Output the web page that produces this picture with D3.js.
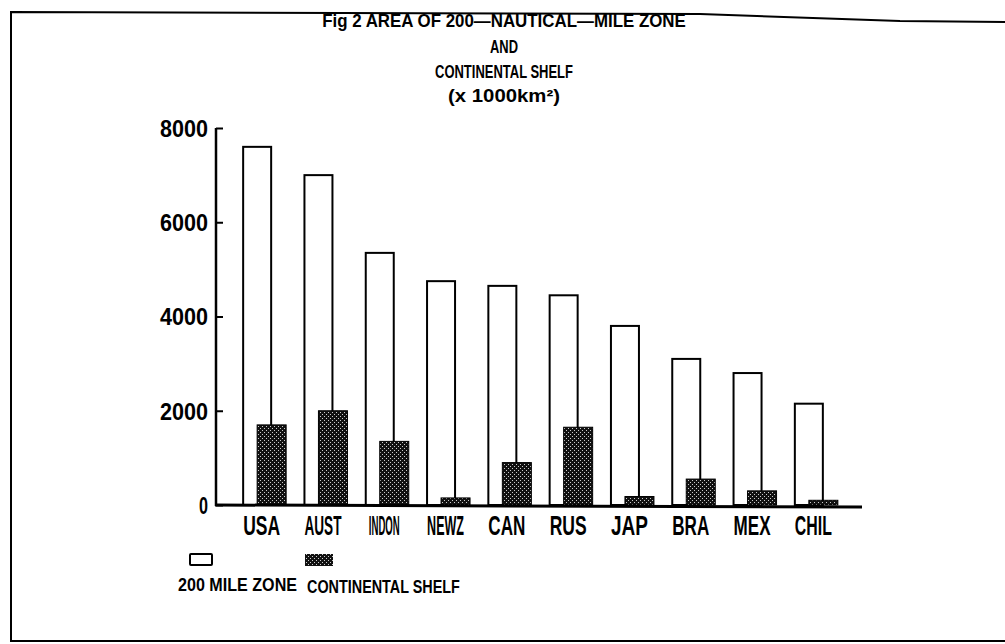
<!DOCTYPE html>
<html>
<head>
<meta charset="utf-8">
<script src="https://cdn.jsdelivr.net/npm/d3@7"></script>
<style>
body { margin: 0; background: #fff; }
text { font-family: "Liberation Sans", Arial, sans-serif; font-weight: bold; fill: #000; }
</style>
</head>
<body>
<script>
var width = 1005, height = 644;

var countries = ["USA", "AUST", "INDON", "NEWZ", "CAN", "RUS", "JAP", "BRA", "MEX", "CHIL"];
var zone200 = [7600, 7000, 5350, 4750, 4650, 4450, 3800, 3100, 2800, 2150];
var shelf = [1700, 2000, 1350, 150, 900, 1650, 180, 550, 300, 100];
var yTicks = [0, 2000, 4000, 6000, 8000];
var titleLines = ["Fig 2 AREA OF 200\u2014NAUTICAL\u2014MILE ZONE", "AND", "CONTINENTAL SHELF", "(x 1000km\u00b2)"];
var legendNames = ["200 MILE ZONE", "CONTINENTAL SHELF"];

var svg = d3.select("body").append("svg")
    .attr("width", width)
    .attr("height", height);

// squeeze each text horizontally so it fills the given width (narrow typewriter look)
function squeeze(sel, px, py, w) {
    sel.attr("x", 0).attr("y", 0).each(function(d, i){
        var k = w(d, i) / this.getComputedTextLength();
        d3.select(this).attr("transform", "translate(" + px(d, i) + "," + py(d, i) + ") scale(" + k + ",1)");
    });
}

// stippled fill of the shelf bars
var pat = svg.append("defs").append("pattern")
    .attr("id", "dots")
    .attr("width", 4).attr("height", 4)
    .attr("patternUnits", "userSpaceOnUse");
pat.append("rect").attr("width", 4).attr("height", 4).attr("fill", "#111");
pat.append("rect").attr("x", 0).attr("y", 0).attr("width", 1).attr("height", 1).attr("fill", "#ccc");
pat.append("rect").attr("x", 2).attr("y", 2).attr("width", 1).attr("height", 1).attr("fill", "#ccc");

// frame around the figure (right edge is off the page)
svg.append("path")
    .attr("d", "M1010,22 L900,21 L700,14 L11,12 L11,641 L1010,641")
    .attr("fill", "none").attr("stroke", "#000").attr("stroke-width", 2);

var x = d3.scaleBand().domain(countries).range([234, 847]);
var y = d3.scaleLinear().domain([0, 8000]).range([505, 128]);

// title
svg.selectAll(".title").data(titleLines).enter().append("text")
    .attr("class", "title")
    .attr("text-anchor", "middle")
    .attr("font-size", 18)
    .text(function(d){ return d; })
    .call(squeeze,
        function(){ return 504; },
        function(d, i){ return [27, 53, 78, 102][i]; },
        function(d, i){ return [364, 28, 138, 112][i]; });

// bars
svg.selectAll(".zone").data(countries).enter().append("rect")
    .attr("class", "zone")
    .attr("x", function(d){ return x(d) + x.bandwidth()/2 - 21.5; })
    .attr("width", 28)
    .attr("y", function(d, i){ return y(zone200[i]); })
    .attr("height", function(d, i){ return y(0) - y(zone200[i]); })
    .attr("fill", "#fff").attr("stroke", "#000").attr("stroke-width", 2);

svg.selectAll(".shelf").data(countries).enter().append("rect")
    .attr("class", "shelf")
    .attr("x", function(d){ return x(d) + x.bandwidth()/2 - 7.5; })
    .attr("width", 29)
    .attr("y", function(d, i){ return y(shelf[i]); })
    .attr("height", function(d, i){ return y(0) - y(shelf[i]); })
    .attr("fill", "url(#dots)").attr("stroke", "#000").attr("stroke-width", 1);

// axes
var yAxis = svg.append("g")
    .attr("transform", "translate(216,0)")
    .call(d3.axisLeft(y).tickValues(yTicks).tickSize(-7).tickPadding(8).tickFormat(d3.format("d")));
yAxis.select(".domain").remove();
yAxis.selectAll("line").attr("stroke-width", 2);
yAxis.selectAll("text")
    .attr("font-size", 23)
    .attr("dy", "0.36em")
    .attr("textLength", function(d){ return d == 0 ? 9 : 48; })
    .attr("lengthAdjust", "spacingAndGlyphs");
svg.append("line").attr("x1", 216).attr("x2", 216).attr("y1", y(8000)).attr("y2", y(0) + 1)
    .attr("stroke", "#000").attr("stroke-width", 2.5);
svg.append("line").attr("x1", 215).attr("x2", 862).attr("y1", y(0)).attr("y2", y(0) + 2)
    .attr("stroke", "#000").attr("stroke-width", 3);

svg.selectAll(".xlab").data(countries).enter().append("text")
    .attr("class", "xlab")
    .attr("text-anchor", "middle")
    .attr("font-size", 27)
    .text(function(d){ return d; })
    .call(squeeze,
        function(d){ return x(d) + x.bandwidth()/2 - 3; },
        function(){ return 535; },
        function(d){ return d == "INDON" ? 31 : 37; });

// legend
var legX = [190, 305];
svg.append("rect").attr("x", legX[0]).attr("y", 554).attr("width", 22).attr("height", 11)
    .attr("fill", "#fff").attr("stroke", "#000").attr("stroke-width", 2).attr("rx", 1);
svg.append("rect").attr("x", legX[1]).attr("y", 554).attr("width", 28).attr("height", 12)
    .attr("fill", "url(#dots)");
svg.selectAll(".leg").data(legendNames).enter().append("text")
    .attr("class", "leg")
    .attr("font-size", 19)
    .text(function(d){ return d; })
    .call(squeeze,
        function(d, i){ return [178, 307][i]; },
        function(d, i){ return [591, 593][i]; },
        function(d, i){ return [119, 153][i]; });
</script>
</body>
</html>
